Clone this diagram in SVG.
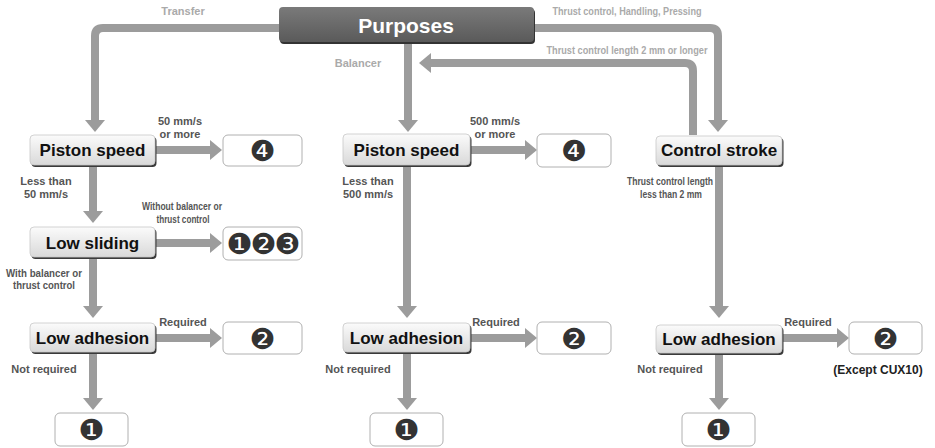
<svg xmlns="http://www.w3.org/2000/svg" width="935" height="448" viewBox="0 0 935 448">
<defs>
<linearGradient id="nodeGrad" x1="0" y1="0" x2="0" y2="1">
<stop offset="0" stop-color="#fbfbfb"/>
<stop offset="1" stop-color="#d9d9d9"/>
</linearGradient>
<linearGradient id="topGrad" x1="0" y1="0" x2="0" y2="1">
<stop offset="0" stop-color="#7a7a7a"/>
<stop offset="1" stop-color="#5a5a5a"/>
</linearGradient>
<marker id="ah" viewBox="0 0 12 20" refX="0" refY="10" markerWidth="12" markerHeight="20" markerUnits="userSpaceOnUse" orient="auto">
<path d="M0,0 L12,10 L0,20 z" fill="#9c9c9c"/>
</marker>
<style>
.con{fill:none;stroke:#9c9c9c;stroke-width:8}
.arr{marker-end:url(#ah)}
.shadow{fill:#3a3a3a}
.node{fill:url(#nodeGrad);stroke:#c8c8c8;stroke-width:0.8}
.out{fill:#ffffff;stroke:#b0b0b0;stroke-width:1}
.nt{font-family:"Liberation Sans",Arial,sans-serif;font-weight:bold;font-size:17px;fill:#111;text-anchor:middle}
.num{font-family:"DejaVu Sans",sans-serif;font-size:29px;fill:#333;text-anchor:middle}
.lbl{font-family:"Liberation Sans",Arial,sans-serif;font-weight:bold;font-size:11px;fill:#555;text-anchor:middle}
.top{font-family:"Liberation Sans",Arial,sans-serif;font-weight:bold;font-size:11px;fill:#aaaaaa;text-anchor:middle}
.exc{font-family:"Liberation Sans",Arial,sans-serif;font-weight:bold;font-size:12px;fill:#222;text-anchor:middle}
</style>
</defs>
<rect width="935" height="448" fill="#ffffff"/>

<g id="connectors">
<path class="con arr" d="M279,28 H103 Q95,28 95,36 V120"/>
<path class="con arr" d="M408,43 V120"/>
<path class="con arr" d="M534,28 H710 Q718,28 718,36 V120"/>
<path class="con arr" d="M693,135 V71 Q693,63 685,63 H431"/>
<path class="con arr" d="M155,150 H210"/>
<path class="con arr" d="M93,165 V211"/>
<path class="con arr" d="M155,243 H210"/>
<path class="con arr" d="M93,257 V306"/>
<path class="con arr" d="M155,338 H210"/>
<path class="con arr" d="M93,352 V398"/>
<path class="con arr" d="M470,150 H525"/>
<path class="con arr" d="M407,165 V306"/>
<path class="con arr" d="M470,338 H525"/>
<path class="con arr" d="M407,352 V398"/>
<path class="con arr" d="M719,165 V306"/>
<path class="con arr" d="M782,338 H837"/>
<path class="con arr" d="M719,353 V398"/>
</g>

<g id="edge-labels">
<text class="top" x="183" y="15">Transfer</text>
<text class="top" x="358" y="67">Balancer</text>
<text class="top" x="627" y="15" textLength="149" lengthAdjust="spacingAndGlyphs">Thrust control, Handling, Pressing</text>
<text class="top" x="627" y="54" textLength="161" lengthAdjust="spacingAndGlyphs">Thrust control length 2 mm or longer</text>
<text class="lbl" x="180" y="125">50 mm/s</text>
<text class="lbl" x="180" y="138">or more</text>
<text class="lbl" x="46" y="185">Less than</text>
<text class="lbl" x="46" y="198">50 mm/s</text>
<text class="lbl" x="182" y="210" textLength="80" lengthAdjust="spacingAndGlyphs" font-size="10">Without balancer or</text>
<text class="lbl" x="183" y="223" textLength="53" lengthAdjust="spacingAndGlyphs" font-size="10">thrust control</text>
<text class="lbl" x="44" y="277" textLength="76" lengthAdjust="spacingAndGlyphs">With balancer or</text>
<text class="lbl" x="44" y="289" textLength="62" lengthAdjust="spacingAndGlyphs">thrust control</text>
<text class="lbl" x="183" y="326">Required</text>
<text class="lbl" x="44" y="373">Not required</text>
<text class="lbl" x="495" y="125">500 mm/s</text>
<text class="lbl" x="495" y="138">or more</text>
<text class="lbl" x="368" y="185">Less than</text>
<text class="lbl" x="368" y="198">500 mm/s</text>
<text class="lbl" x="496" y="326">Required</text>
<text class="lbl" x="358" y="373">Not required</text>
<text class="lbl" x="670" y="185" textLength="86" lengthAdjust="spacingAndGlyphs">Thrust control length</text>
<text class="lbl" x="671" y="198" textLength="62" lengthAdjust="spacingAndGlyphs">less than 2 mm</text>
<text class="lbl" x="808" y="326">Required</text>
<text class="lbl" x="670" y="373">Not required</text>
</g>

<g id="purposes">
<rect x="280" y="9" width="255" height="35" rx="4" fill="#333"/>
<rect x="279" y="7" width="255" height="35" rx="4" fill="url(#topGrad)"/>
<text x="406" y="33" font-family="'Liberation Sans',Arial,sans-serif" font-weight="bold" font-size="21" fill="#ffffff" text-anchor="middle">Purposes</text>
</g>

<g id="piston-speed-1">
<rect class="shadow" x="31.5" y="137" width="125" height="30" rx="4"/>
<rect class="node" x="30" y="135" width="125" height="30" rx="4"/>
<text class="nt" x="92.5" y="156">Piston speed</text>
</g>
<g id="out-4a">
<rect class="out" x="223" y="135" width="79" height="31" rx="5"/>
<text class="num" x="262.5" y="161">❹</text>
</g>
<g id="low-sliding">
<rect class="shadow" x="31.5" y="229" width="125" height="30" rx="4"/>
<rect class="node" x="30" y="227" width="125" height="30" rx="4"/>
<text class="nt" x="92.5" y="249">Low sliding</text>
</g>
<g id="out-123">
<rect class="out" x="223" y="227" width="79" height="33" rx="5"/>
<text class="num" x="262.5" y="254" letter-spacing="-2">❶❷❸</text>
</g>
<g id="low-adhesion-1">
<rect class="shadow" x="31.5" y="325" width="125" height="29" rx="4"/>
<rect class="node" x="30" y="323" width="125" height="29" rx="4"/>
<text class="nt" x="92.5" y="344">Low adhesion</text>
</g>
<g id="out-2a">
<rect class="out" x="223" y="322" width="79" height="32" rx="5"/>
<text class="num" x="262.5" y="348.5">❷</text>
</g>
<g id="out-1a">
<rect class="out" x="55" y="413" width="73" height="33" rx="5"/>
<text class="num" x="91.5" y="440">❶</text>
</g>

<g id="piston-speed-2">
<rect class="shadow" x="344.5" y="136" width="127" height="31" rx="4"/>
<rect class="node" x="343" y="134" width="127" height="31" rx="4"/>
<text class="nt" x="406.5" y="156">Piston speed</text>
</g>
<g id="out-4b">
<rect class="out" x="537" y="134" width="74" height="33" rx="5"/>
<text class="num" x="574" y="161">❹</text>
</g>
<g id="low-adhesion-2">
<rect class="shadow" x="344.5" y="325" width="127" height="29" rx="4"/>
<rect class="node" x="343" y="323" width="127" height="29" rx="4"/>
<text class="nt" x="406.5" y="344">Low adhesion</text>
</g>
<g id="out-2b">
<rect class="out" x="537" y="322" width="74" height="32" rx="5"/>
<text class="num" x="574" y="348.5">❷</text>
</g>
<g id="out-1b">
<rect class="out" x="370" y="413" width="73" height="33" rx="5"/>
<text class="num" x="406.5" y="440">❶</text>
</g>

<g id="control-stroke">
<rect class="shadow" x="657.5" y="138" width="126" height="29" rx="4"/>
<rect class="node" x="656" y="136" width="126" height="29" rx="4"/>
<text class="nt" x="719" y="156">Control stroke</text>
</g>
<g id="low-adhesion-3">
<rect class="shadow" x="657.5" y="327" width="126" height="28" rx="4"/>
<rect class="node" x="656" y="325" width="126" height="28" rx="4"/>
<text class="nt" x="719" y="345">Low adhesion</text>
</g>
<g id="out-2c">
<rect class="out" x="849" y="322" width="73" height="32" rx="5"/>
<text class="num" x="885.5" y="348.5">❷</text>
<text class="exc" x="878" y="374">(Except CUX10)</text>
</g>
<g id="out-1c">
<rect class="out" x="682" y="413" width="73" height="33" rx="5"/>
<text class="num" x="718.5" y="440">❶</text>
</g>
</svg>
